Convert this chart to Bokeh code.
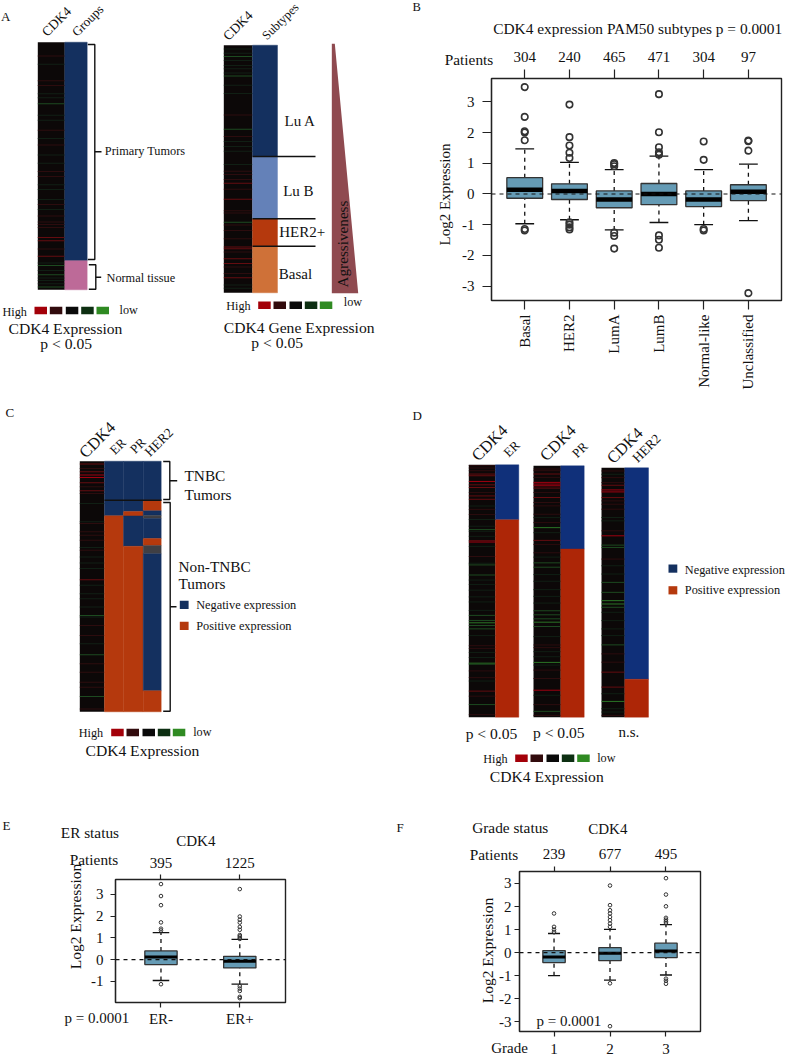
import math
from bokeh.embed import file_html
from bokeh.resources import INLINE
from bokeh.models import Range1d, Label, Span, LinearAxis, FixedTicker, ColumnDataSource
from bokeh.plotting import figure

FONT = "Liberation Serif"
N_ROWS = 750

# ---------- data: box plots (q1, median, q3, whisker low, whisker high, outliers) ----------
pam50_names = ["Basal", "HER2", "LumA", "LumB", "Normal-like", "Unclassified"]
pam50_patients = ["304", "240", "465", "471", "304", "97"]
pam50_q1 = [-0.14, -0.18, -0.45, -0.35, -0.41, -0.22]
pam50_med = [0.14, 0.10, -0.18, 0.0, -0.18, 0.07]
pam50_q3 = [0.53, 0.33, 0.10, 0.34, 0.10, 0.30]
pam50_lo = [-0.97, -0.84, -1.17, -0.93, -1.00, -0.87]
pam50_hi = [1.47, 1.03, 0.79, 1.23, 0.79, 0.97]
pam50_out = [
    [3.48, 2.51, 2.04, 2.0, 1.75, -1.14, -1.19],
    [2.91, 1.85, 1.58, 1.34, 1.17, -0.92, -1.0, -1.09, -1.16],
    [1.01, 0.97, 0.9, -1.26, -1.37, -1.78],
    [3.25, 2.01, 1.52, 1.36, 1.28, -1.35, -1.49, -1.75],
    [1.71, 1.11, -1.14, -1.19],
    [1.74, 1.72, 1.41, -3.23],
]

er_names = ["ER-", "ER+"]
er_patients = ["395", "1225"]
er_q1 = [-0.23, -0.38]
er_med = [0.12, -0.08]
er_q3 = [0.40, 0.15]
er_lo = [-0.96, -1.13]
er_hi = [1.24, 0.93]
er_out = [
    [3.47, 2.92, 2.5, 1.71, 1.42, 1.34, -1.13],
    [3.24, 1.98, 1.83, 1.7, 1.5, 1.37, 1.13, 1.07, 1.0, 0.95, -1.22, -1.33, -1.44, -1.71, -1.77],
]

grade_names = ["1", "2", "3"]
grade_patients = ["239", "677", "495"]
grade_q1 = [-0.43, -0.35, -0.22]
grade_med = [-0.19, -0.03, 0.07]
grade_q3 = [0.09, 0.22, 0.41]
grade_lo = [-1.0, -1.19, -0.97]
grade_hi = [0.83, 1.01, 1.22]
grade_out = [
    [1.7, 1.12, 1.0, 0.9],
    [2.91, 2.06, 1.84, 1.7, 1.55, 1.41, 1.26, 1.12, -1.33, -3.19],
    [3.23, 2.52, 2.01, 1.51, 1.43, 1.36, 1.29, -1.13, -1.22, -1.35],
]

# ---------- data: heat strips (row out of N_ROWS, level: + red, - green) ----------
heat_a = [(40,1),(65,-1),(115,1),(130,1),(155,-1),(167,-1),(185,-2),(220,-1),(235,-1),(265,1),(290,-1),(310,1),
          (340,-1),(365,-1),(390,1),(405,1),(430,-1),(445,-1),(475,-1),(490,1),(505,-1),(525,1),(543,1),(551,1),
          (560,1),(590,2),(600,2),(625,1),(647,2),(667,-1),(675,-2),(690,-1),(703,-2),(713,-1),(720,-1),(730,-1),(740,-2)]
heat_b = [(10,-1),(23,-1),(33,-2),(45,-1),(60,-1),(70,-1),(83,-1),(92,-2),(120,-1),(145,-1),(210,1),(253,-2),(275,1),
          (290,-1),(305,-1),(320,-1),(360,-1),(380,1),(390,1),(405,1),(417,2),(435,1),(465,2),(500,1),(507,1),(535,-2),
          (543,1),(560,1),(585,1),(610,2),(615,2),(625,1),(645,2),(660,2),(670,1),(690,1),(703,2),(725,-1),(735,-1)]
heat_c = [(7,2),(20,1),(30,2),(40,3),(47,3),(63,2),(75,1),(87,2),(95,1),(125,-1),(180,-1),(185,1),(210,1),(220,1),
          (235,1),(257,-1),(265,1),(285,-1),(303,-1),(320,-1),(353,2),(370,-1),(395,-1),(410,-1),(435,-1),(460,-2),
          (465,-1),(490,1),(520,1),(545,-1),(578,-2),(605,1),(630,1),(660,1),(675,1),(703,-2),(740,1)]
heat_d1 = [(1,1),(8,1),(16,1),(26,2),(31,2),(48,3),(58,2),(66,2),(81,1),(91,2),(101,2),(121,-1),(131,1),(146,1),
           (161,-1),(181,-1),(191,-2),(196,-1),(211,-1),(224,2),(228,3),(241,-1),(271,1),(291,-1),(296,-2),(326,-2),
           (341,-1),(354,-1),(371,-1),(391,-1),(406,-1),(431,-1),(446,-2),(461,-2),(468,-3),(476,-2),(486,-2),(506,-1),
           (536,1),(544,1),(556,-1),(571,-1),(588,-3),(591,-2),(611,1),(631,1),(641,-1),(671,2),(686,1),(711,-2),(741,1)]
heat_d2 = [(8,1),(13,1),(23,2),(33,1),(48,3),(53,3),(58,3),(65,2),(78,1),(93,2),(108,1),(118,1),(143,1),(153,-1),
           (168,1),(183,-3),(198,-1),(221,2),(233,1),(258,1),(271,-1),(288,-2),(301,-2),(323,-1),(343,-1),(368,-1),
           (388,-1),(408,-1),(431,-2),(443,-2),(455,-2),(465,-3),(478,-2),(508,-1),(533,1),(541,1),(553,-1),(568,-1),
           (585,-3),(593,-1),(608,1),(633,1),(668,3),(683,-1),(711,1),(731,-2),(743,1)]
heat_d3 = [(8,1),(18,-1),(28,1),(43,1),(51,2),(65,3),(71,3),(88,2),(98,1),(108,1),(123,1),(148,-1),(158,-1),(188,1),
           (203,3),(231,-2),(238,-2),(273,1),(293,-1),(318,-1),(343,-2),(373,-2),(398,-3),(408,-3),(418,-2),(433,-1),
           (458,-1),(483,-1),(503,-1),(531,-2),(558,1),(583,1),(613,2),(658,2),(678,-1),(701,-3),(723,-1),(733,-1),(743,1)]

# ---------- data: stacked category columns (share of the column, top to bottom) ----------
groups_share = [("Primary", 0.8825), ("Normal", 0.1175)]
subtype_share = [("LuA", 0.4500), ("LuB", 0.2515), ("HER2", 0.1105), ("Basal", 0.1880)]
er_share = [("Neg", 0.2180), ("Pos", 0.7820)]
pr_share = [("Neg", 0.3310), ("Pos", 0.6690)]
her2_share = [("Neg", 0.8480), ("Pos", 0.1520)]
tnbc_er = [("Neg", 0.2179), ("Pos", 0.7821)]
tnbc_pr = [("Neg", 0.2011), ("Pos", 0.0172), ("Neg", 0.1213), ("Pos", 0.6604)]
tnbc_her2 = [("Neg", 0.1556), ("Pos", 0.0423), ("Neg", 0.0187), ("NA", 0.0120), ("Neg", 0.0798),
             ("Pos", 0.0279), ("NA", 0.0331), ("Neg", 0.5467), ("Pos", 0.0839)]

heat_levels = {3: "#a00010", 2: "#640c10", 1: "#2c0c0e", -1: "#101f14", -2: "#1d4a20", -3: "#2b7526"}
legend_levels = ["#a30009", "#320b0d", "#0a0a0a", "#0d2f12", "#2f8a22"]
cat_colors = {"Primary": "#14305f", "Normal": "#bd6a98", "LuA": "#14305f", "LuB": "#6481b8", "HER2": "#b5390d",
              "Basal": "#cf7138", "Neg": "#14305f", "Pos": "#b5390d", "NA": "#3f3f44"}
bright_colors = {"Neg": "#10307a", "Pos": "#ad2607"}
box_fill = "#659bb5"
INK = "#222222"

# page-sized figure that carries the heat maps, schematic marks and free texts
pg = figure(width=787, height=1056, x_range=Range1d(0, 787), y_range=Range1d(1056, 0), min_border=0,
            x_axis_type=None, y_axis_type=None, toolbar_location=None, output_backend="svg",
            outline_line_color=None, styles={"position": "absolute", "left": "0px", "top": "0px"})
pg.grid.visible = False


def txt(x, y, s, size=15, align="left", angle=0, base="middle"):
    pg.add_layout(Label(x=x, y=y, text=s, text_font=FONT, text_font_size=f"{size}px", text_align=align,
                        text_baseline=base, angle=angle, angle_units="deg", text_color="#111111"))


def heat(x0, x1, top, bottom, strips):
    pg.quad(left=[x0], right=[x1], top=[top], bottom=[bottom], fill_color="#0c0808", line_color=None)
    h = bottom - top
    rows = [r for r, _ in strips]
    pg.quad(left=[x0] * len(rows), right=[x1] * len(rows),
            top=[top + r / N_ROWS * h for r in rows], bottom=[top + r / N_ROWS * h + 1.0 for r in rows],
            fill_color=[heat_levels[l] for _, l in strips], line_color=None)


def stack(x0, x1, top, bottom, shares, colors=cat_colors):
    y = top
    for name, sh in shares:
        y2 = y + sh * (bottom - top)
        pg.quad(left=[x0], right=[x1], top=[y], bottom=[y2], fill_color=colors[name], line_color=colors[name], line_width=0.4)
        y = y2


def bracket(x0, xv, top, bottom, tick_y, tick_x):
    pg.line([x0, xv, xv, x0], [top, top, bottom, bottom], line_color="#111111", line_width=1.4)
    pg.line([xv, tick_x], [tick_y, tick_y], line_color="#111111", line_width=1.4)


def heat_legend(hx, hy, xs, ytop, lowx, lowy):
    txt(hx, hy, "High", 12.2)
    for x, c in zip(xs, legend_levels):
        pg.quad(left=[x], right=[x + 12.5], top=[ytop], bottom=[ytop + 7.5], fill_color=c, line_color=None)
    txt(lowx, lowy, "low", 12.2)


def swatch(x, y, name):
    pg.quad(left=[x], right=[x + 8.8], top=[y], bottom=[y + 8.2], fill_color=cat_colors[name], line_color=None)


# ---------- panel A ----------
heat(37.3, 64.3, 41.7, 289.3, heat_a)
stack(64.3, 86.7, 41.7, 289.3, groups_share)
heat(223.3, 252, 44.7, 292.3, heat_b)
stack(252, 277, 44.7, 292.3, subtype_share)
for yy in [156, 218.3, 245.7]:
    pg.line([252, 315], [yy, yy], line_color="#111111", line_width=1.6)
pg.patch([331.3, 334.3, 357.7, 331.3], [43.3, 43.3, 292.7, 292.7], fill_color="#8f4a50", line_color=None)
bracket(87.3, 94.3, 44, 259, 151.3, 101)
bracket(88.3, 95.3, 264.3, 288.7, 276.7, 100.7)
txt(0.5, 16, "A", 13)
txt(56, 21, "CDK4", 13.5, "center", 45)
txt(87, 20, "Groups", 13, "center", 45)
txt(237.3, 25, "CDK4", 13.5, "center", 45)
txt(280, 21, "Subtypes", 12.5, "center", 45)
txt(104.3, 150.3, "Primary Tumors", 12.3)
txt(106, 277.7, "Normal tissue", 12.3)
txt(284, 120.7, "Lu A", 15)
txt(282.7, 190.7, "Lu B", 15)
txt(278.7, 231.7, "HER2+", 15)
txt(278.3, 273.3, "Basal", 15)
txt(342, 243.5, "Agressiveness", 15.2, "center", 90)
heat_legend(2, 311, [34, 49.3, 65.3, 80.7, 96], 306.3, 119, 309)
txt(8, 328, "CDK4 Expression", 15.6)
txt(65.7, 342.7, "p < 0.05", 15.6, "center")
heat_legend(225.7, 305.7, [257.7, 273, 289, 304.3, 319.3], 301, 343.3, 301)
txt(223.3, 326.7, "CDK4 Gene Expression", 15.6)
txt(276.7, 341.7, "p < 0.05", 15.6, "center")

# ---------- panel C ----------
heat(79.3, 104, 460.7, 711.3, heat_c)
stack(104, 123, 460.7, 711.3, tnbc_er)
stack(123, 142.7, 460.7, 711.3, tnbc_pr)
stack(142.7, 160.7, 460.7, 711.3, tnbc_her2)
pg.line([104, 161], [499.7, 499.7], line_color="#111111", line_width=1.6)
bracket(162.7, 169.3, 461, 499, 480.3, 176.7)
bracket(162.7, 169.7, 502, 710.7, 606.3, 176)
txt(5, 412, "C", 13)
txt(96.7, 439.3, "CDK4", 16.5, "center", 45)
txt(117.3, 445.7, "ER", 13, "center", 45)
txt(137.3, 445, "PR", 13, "center", 45)
txt(158.3, 441.7, "HER2", 13.5, "center", 45)
txt(184, 475.3, "TNBC", 15.3)
txt(184, 494, "Tumors", 15.3)
txt(178, 565.7, "Non-TNBC", 15.3)
txt(178, 583, "Tumors", 15.3)
swatch(179.3, 600.3, "Neg")
swatch(179.3, 621.3, "Pos")
txt(195.7, 604.3, "Negative expression", 12.3)
txt(195.7, 625, "Positive expression", 12.3)
heat_legend(78.3, 732.7, [110.7, 126, 142, 157.3, 172.3], 728.3, 192.7, 731.3)
txt(85, 750, "CDK4 Expression", 15.6)

# ---------- panel D ----------
heat(468.3, 495, 464.3, 716.7, heat_d1)
stack(495, 518.3, 464.3, 716.7, er_share, bright_colors)
heat(533, 560.3, 465.3, 716.7, heat_d2)
stack(560.3, 583.7, 465.3, 716.7, pr_share, bright_colors)
heat(601, 624.3, 467.3, 716.7, heat_d3)
stack(624.3, 648, 467.3, 716.7, her2_share, bright_colors)
txt(412, 414.7, "D", 13)
for x, y, s, fs in [(489, 442.3, "CDK4", 16.5), (511, 448.3, "ER", 13), (557.3, 442.3, "CDK4", 16.5),
                    (579.3, 449.3, "PR", 13), (624.3, 445, "CDK4", 16.5), (646, 447.7, "HER2", 13.5)]:
    txt(x, y, s, fs, "center", 45)
txt(491, 733.3, "p < 0.05", 15.6, "center")
txt(558.3, 732.3, "p < 0.05", 15.6, "center")
txt(628.3, 731, "n.s.", 15, "center")
swatch(668, 564, "Neg")
swatch(668, 585.7, "Pos")
txt(684.3, 569.3, "Negative expression", 12.3)
txt(684.3, 589.7, "Positive expression", 12.3)
heat_legend(482.7, 758.7, [514.7, 530, 546, 561.3, 576.7], 754, 596.7, 757)
txt(489.3, 776, "CDK4 Expression", 15.6)

# ---------- free texts of the box plots ----------
txt(412, 6.5, "B", 12.5)
txt(492.7, 28.3, "CDK4 expression PAM50 subtypes p = 0.0001", 15.4)
txt(444.3, 59.3, "Patients", 15.3)
txt(444, 194, "Log2 Expression", 15, "center", 90)
txt(2, 825, "E", 13)
txt(60.3, 832.3, "ER status", 15.3)
txt(195.3, 840, "CDK4", 15, "center")
txt(69.3, 859, "Patients", 15.3)
txt(75, 916, "Log2 Expression", 15.5, "center", 90)
txt(64, 1017.3, "p = 0.0001", 15)
txt(396, 827, "F", 13)
txt(471.7, 826.7, "Grade status", 15.3)
txt(607.3, 828.7, "CDK4", 15, "center")
txt(469.3, 854, "Patients", 15.3)
txt(487.3, 950, "Log2 Expression", 15.5, "center", 90)
txt(536, 1020, "p = 0.0001", 15)
txt(490.7, 1047.5, "Grade", 15)


# ---------- box plots ----------
def boxfig(w, h, x0, y0, frame, xlim, ylim, yticks, names, patients, q1, med, q3, lo, hi, outs,
           box_w, cap_w, dot, dot_lw, med_lw, tick_len, label_size, left_off, top_off, bottom_off,
           bottom_vertical=False):
    l, r, t, b = frame
    p = figure(width=w, height=h, x_range=Range1d(*xlim), y_range=Range1d(*ylim), toolbar_location=None,
               output_backend="svg", min_border_left=round(l - x0), min_border_right=round(x0 + w - r),
               min_border_top=round(t - y0), min_border_bottom=round(y0 + h - b), x_axis_type=None, y_axis_type=None,
               outline_line_color=INK, outline_line_width=1.4, background_fill_color=None, border_fill_color=None,
               styles={"position": "absolute", "left": f"{x0}px", "top": f"{y0}px"})
    p.grid.visible = False
    xs = list(range(1, len(names) + 1))
    src = ColumnDataSource(dict(x=xs, q1=q1, med=med, q3=q3, lo=lo, hi=hi,
                                l=[i - box_w / 2 for i in xs], r=[i + box_w / 2 for i in xs],
                                cl=[i - cap_w / 2 for i in xs], cr=[i + cap_w / 2 for i in xs]))
    p.segment("x", "lo", "x", "q1", source=src, line_color="#111111", line_width=1.3, line_dash="4 4")
    p.segment("x", "q3", "x", "hi", source=src, line_color="#111111", line_width=1.3, line_dash="4 4")
    p.segment("cl", "lo", "cr", "lo", source=src, line_color="#111111", line_width=1.3)
    p.segment("cl", "hi", "cr", "hi", source=src, line_color="#111111", line_width=1.3)
    p.quad(left="l", right="r", bottom="q1", top="q3", source=src, fill_color=box_fill, line_color="#333333", line_width=1.3)
    p.segment("l", "med", "r", "med", source=src, line_color="#000000", line_width=med_lw)
    px = [i for i, o in zip(xs, outs) for _ in o]
    py = [v for o in outs for v in o]
    p.scatter(px, py, marker="circle", size=dot, fill_color=None, line_color="#333333", line_width=dot_lw)
    p.add_layout(Span(location=0, dimension="width", line_color="#111111", line_width=1.1, line_dash="4 4"))

    def axis_style(ax, out):
        ax.axis_line_color = INK
        ax.axis_line_width = 1.2
        ax.major_tick_line_color = INK
        ax.major_tick_line_width = 1.2
        ax.major_tick_out = out
        ax.major_tick_in = 0
        ax.minor_tick_out = 0
        ax.minor_tick_in = 0
        ax.major_label_text_font = FONT
        ax.major_label_text_font_size = f"{label_size}px"
        ax.major_label_text_color = "#111111"

    ly = LinearAxis(ticker=FixedTicker(ticks=yticks), major_label_standoff=left_off,
                    major_label_overrides={t_: str(t_) for t_ in yticks})
    axis_style(ly, tick_len)
    p.add_layout(ly, "left")
    top = LinearAxis(ticker=FixedTicker(ticks=xs), major_label_overrides=dict(zip(xs, patients)), major_label_standoff=top_off)
    axis_style(top, tick_len)
    p.add_layout(top, "above")
    bot = LinearAxis(ticker=FixedTicker(ticks=xs), major_label_overrides=dict(zip(xs, names)), major_label_standoff=bottom_off)
    axis_style(bot, tick_len)
    if bottom_vertical:
        bot.major_label_orientation = math.pi / 2
    p.add_layout(bot, "below")
    return p


pb = boxfig(387, 387, 400, 8, (491, 781.3, 77.7, 300), (0.257, 6.74), (-3.47, 3.76), [-3, -2, -1, 0, 1, 2, 3],
            pam50_names, pam50_patients, pam50_q1, pam50_med, pam50_q3, pam50_lo, pam50_hi, pam50_out,
            0.8, 0.42, 6.5, 1.6, 4.5, 9, 15, 8, 8, 5, True)
pe = boxfig(230, 216, 70, 840, (114.7, 285.3, 879, 1002.3), (0.423, 2.58), (-1.97, 3.68), [-1, 0, 1, 2, 3],
            er_names, er_patients, er_q1, er_med, er_q3, er_lo, er_hi, er_out,
            0.41, 0.21, 3.6, 1.0, 3, 5, 15, 7, 7, 3)
pf = boxfig(240, 216, 475, 840, (519.3, 699.7, 871.3, 1031), (0.383, 3.617), (-3.42, 3.52), [-3, -2, -1, 0, 1, 2, 3],
            grade_names, grade_patients, grade_q1, grade_med, grade_q3, grade_lo, grade_hi, grade_out,
            0.4, 0.215, 3.6, 1.0, 3, 5, 15, 3, 8, 7)

open("out.html", "w").write(file_html([pg, pb, pe, pf], INLINE))
